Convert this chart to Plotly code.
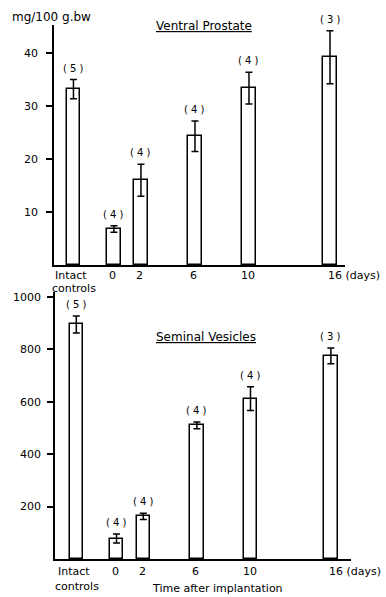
import plotly.graph_objects as go

# Organ weights after implantation (mean ± SEM), number of animals per group
day_values = [0, 2, 6, 10, 16]
day_labels = ["0", "2", "6", "10", "16 (days)"]
control_label = ["Intact", "controls"]
n_animals = [5, 4, 4, 4, 4, 3]          # control group first, then days

prostate_mean = [33.2, 6.8, 16.0, 24.3, 33.4, 39.2]
prostate_sem = [1.8, 0.6, 3.0, 2.9, 3.0, 5.0]

vesicle_mean = [895, 78, 163, 510, 612, 775]
vesicle_sem = [32, 17, 12, 13, 45, 30]

W, H = 386, 597
CONTROL_X = -3          # position of the intact-control bar on the time axis
FONT = "DejaVu Sans"


def fx(p):
    return p / W


def fy(p):
    return 1 - p / H


xs = [CONTROL_X] + day_values

fig = go.Figure()

bar_style = dict(
    marker=dict(color="white", line=dict(color="black", width=1.5)),
    width=1.0,
    showlegend=False,
    hoverinfo="skip",
)

fig.add_trace(go.Bar(
    x=xs, y=prostate_mean,
    error_y=dict(type="data", array=prostate_sem, color="black", thickness=1.5, width=3.5),
    xaxis="x", yaxis="y", **bar_style))

fig.add_trace(go.Bar(
    x=xs, y=vesicle_mean,
    error_y=dict(type="data", array=vesicle_sem, color="black", thickness=1.5, width=3.5),
    xaxis="x2", yaxis="y2", **bar_style))

axis_common = dict(showline=True, linecolor="black", linewidth=1.5,
                   showgrid=False, zeroline=False)

fig.update_layout(
    width=W, height=H,
    margin=dict(l=0, r=0, t=0, b=0),
    paper_bgcolor="white", plot_bgcolor="white",
    font=dict(family=FONT, size=11, color="black"),
    bargap=0,
    xaxis=dict(domain=[fx(54), fx(345)], range=[-4.44, 17.11], anchor="y",
               showticklabels=False, ticks="", **axis_common),
    yaxis=dict(domain=[fy(265), fy(25)], range=[0, 45.3], anchor="x",
               tickvals=[10, 20, 30, 40], ticks="outside", ticklen=6, tickwidth=1.5,
               tickcolor="black", ticklabelstandoff=6, **axis_common),
    xaxis2=dict(domain=[fx(55), fx(351)], range=[-4.59, 17.5], anchor="y2",
                showticklabels=False, ticks="", **axis_common),
    yaxis2=dict(domain=[fy(559), fy(292)], range=[0, 1019], anchor="x2",
                tickvals=[200, 400, 600, 800, 1000], ticks="outside", ticklen=6,
                tickwidth=1.5, tickcolor="black", ticklabelstandoff=4, **axis_common),
)

ann = []

# group sizes above the error bars
for xa, ya, means, sems in (("x", "y", prostate_mean, prostate_sem),
                            ("x2", "y2", vesicle_mean, vesicle_sem)):
    for x, m, s, n in zip(xs, means, sems, n_animals):
        ann.append(dict(x=x, y=m + s, xref=xa, yref=ya, text=f"( {n} )",
                        showarrow=False, yanchor="bottom", yshift=4,
                        font=dict(size=10)))

# time-axis labels for both panels
for xa, y_day, y_ctrl1, y_ctrl2 in (("x", 275, 275, 288), ("x2", 571, 571, 586)):
    for d, lab in zip(day_values, day_labels):
        if lab.startswith("16"):
            ann.append(dict(x=d, y=fy(y_day), xref=xa, yref="paper", text=lab,
                            showarrow=False, xanchor="left", yanchor="middle",
                            xshift=-4))
        else:
            ann.append(dict(x=d, y=fy(y_day), xref=xa, yref="paper", text=lab,
                            showarrow=False, xanchor="center", yanchor="middle",
                            xshift=-1))
    ann.append(dict(x=CONTROL_X, y=fy(y_ctrl1), xref=xa, yref="paper",
                    text=control_label[0], showarrow=False, yanchor="middle", xshift=-2))
    ann.append(dict(x=CONTROL_X, y=fy(y_ctrl2), xref=xa, yref="paper",
                    text=control_label[1], showarrow=False, yanchor="middle", xshift=1))

# panel titles, unit label, axis title
ann += [
    dict(x=fx(10), y=fy(17), xref="paper", yref="paper", text="mg/100 g.bw",
         showarrow=False, xanchor="left", yanchor="middle", font=dict(size=12)),
    dict(x=fx(204), y=fy(26), xref="paper", yref="paper",
         text="<u>Ventral Prostate</u>", showarrow=False, yanchor="middle",
         font=dict(size=12)),
    dict(x=fx(206), y=fy(337), xref="paper", yref="paper",
         text="<u>Seminal Vesicles</u>", showarrow=False, yanchor="middle",
         font=dict(size=12)),
    dict(x=fx(217), y=0, xref="paper", yref="paper",
         text="Time after implantation", showarrow=False, yanchor="bottom"),
]

fig.update_layout(annotations=ann)

fig.write_html("out.html")
